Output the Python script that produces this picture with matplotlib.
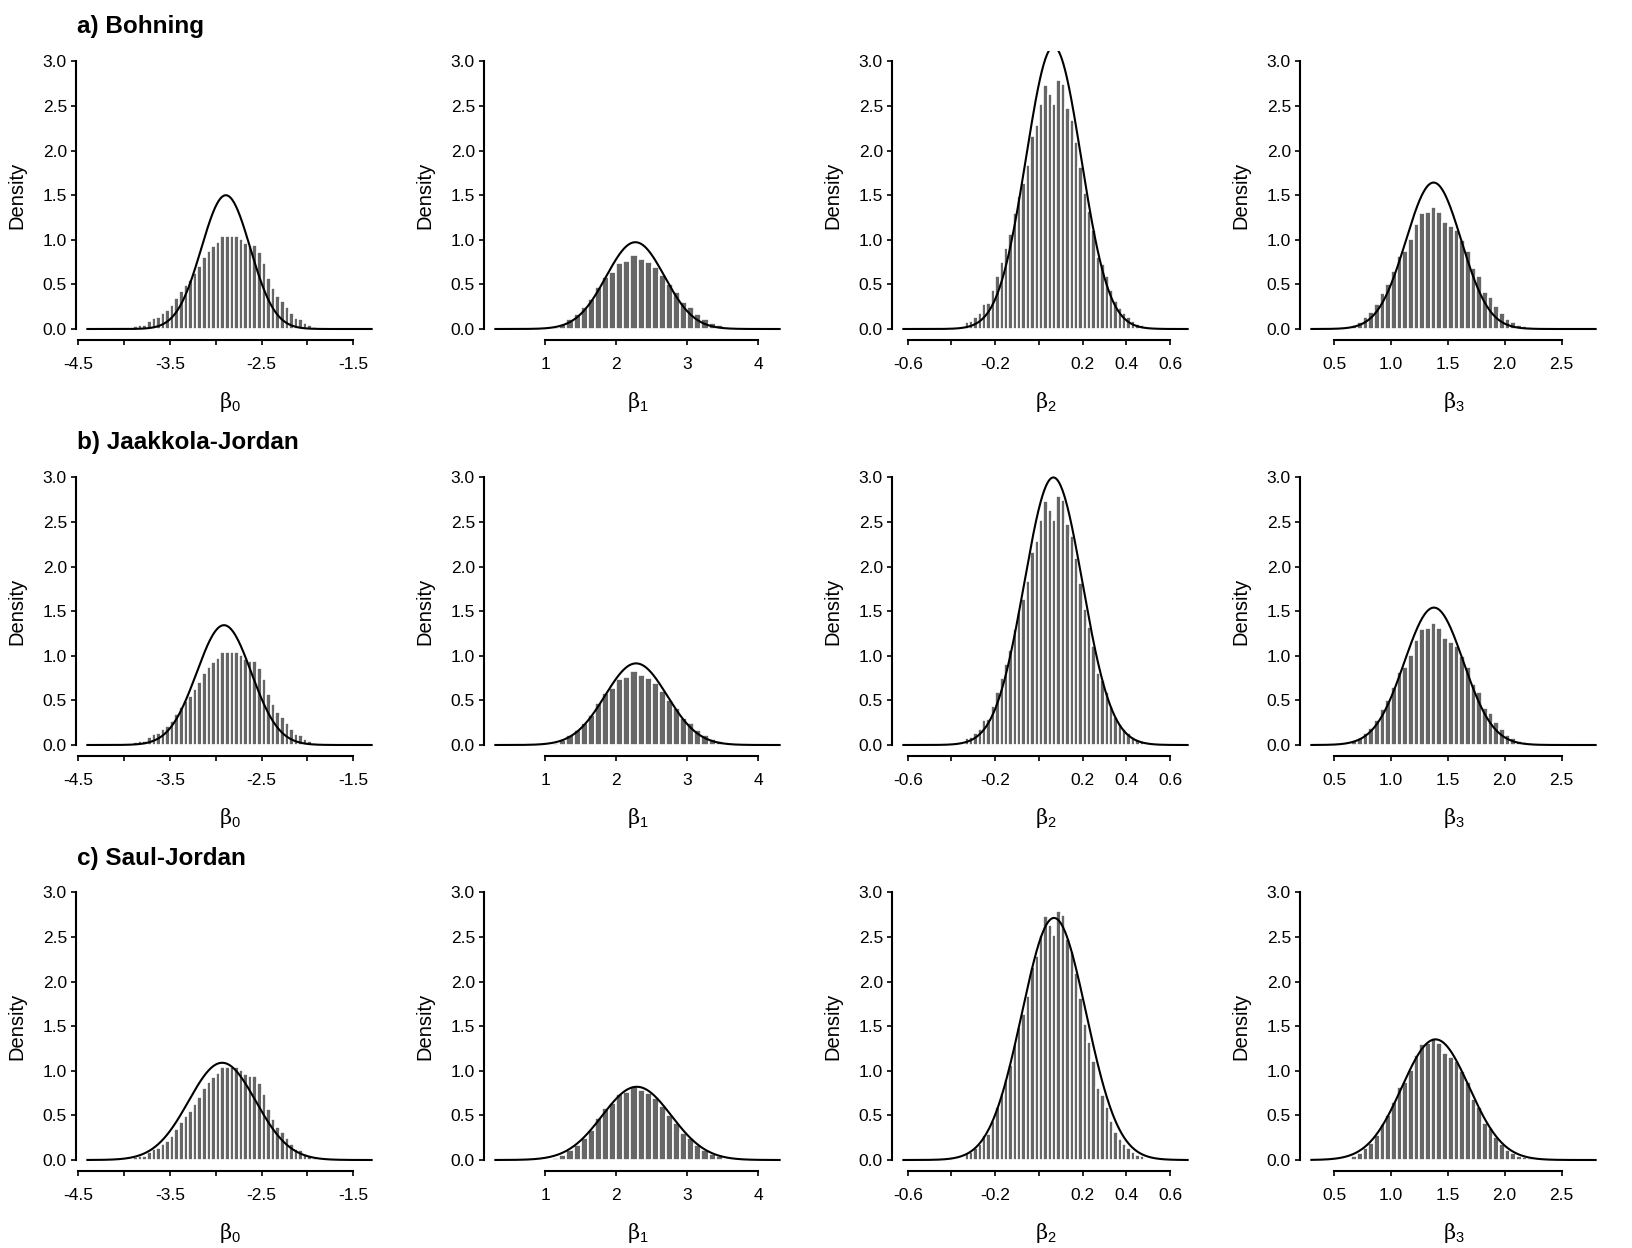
# Posterior histograms with normal approximations (3 methods x 4 coefficients)

import numpy as np
import matplotlib.pyplot as plt

plt.rcParams['font.family'] = ['Liberation Sans', 'DejaVu Sans']
plt.rcParams['mathtext.fontset'] = 'custom'
plt.rcParams['mathtext.rm'] = 'DejaVu Serif'
plt.rcParams['mathtext.sf'] = 'Liberation Sans'

methods = ['a) Bohning', 'b) Jaakkola-Jordan', 'c) Saul-Jordan']
params = [r'$\mathrm{\beta}_\mathsf{0}$', r'$\mathrm{\beta}_\mathsf{1}$',
          r'$\mathrm{\beta}_\mathsf{2}$', r'$\mathrm{\beta}_\mathsf{3}$']

# histogram of the sampled posterior (same sample in every row)
b0_start, b0_width = -3.90, 0.05
b0_dens = [0.03, 0.04, 0.05, 0.09, 0.12, 0.14, 0.18, 0.21, 0.27, 0.35,
           0.43, 0.49, 0.55, 0.63, 0.71, 0.81, 0.87, 0.93, 0.98, 1.04,
           1.04, 1.04, 1.04, 1.01, 0.96, 0.94, 0.94, 0.86, 0.74, 0.57,
           0.46, 0.37, 0.31, 0.25, 0.18, 0.12, 0.11, 0.07, 0.045, 0.02]

b1_start, b1_width = 1.1, 0.1
b1_dens = [0.02, 0.06, 0.11, 0.17, 0.25, 0.34, 0.47, 0.58, 0.64, 0.74,
           0.76, 0.83, 0.78, 0.75, 0.69, 0.60, 0.51, 0.41, 0.30, 0.25,
           0.165, 0.11, 0.07, 0.045]

b2_start, b2_width = -0.34, 0.02
b2_dens = [0.075, 0.09, 0.14, 0.18, 0.28, 0.29, 0.44, 0.59, 0.75, 0.91,
           1.07, 1.30, 1.49, 1.64, 1.84, 2.16, 2.29, 2.52, 2.73, 2.64,
           2.52, 2.79, 2.75, 2.48, 2.34, 2.10, 1.82, 1.52, 1.32, 1.11,
           0.81, 0.73, 0.59, 0.44, 0.31, 0.23, 0.18, 0.14, 0.09, 0.06, 0.04]

b3_start, b3_width = 0.65, 0.05
b3_dens = [0.045, 0.08, 0.14, 0.195, 0.28, 0.40, 0.51, 0.65, 0.82, 0.88,
           1.01, 1.18, 1.30, 1.31, 1.37, 1.31, 1.20, 1.16, 1.11, 1.00,
           0.88, 0.68, 0.59, 0.41, 0.355, 0.26, 0.18, 0.11, 0.08, 0.05,
           0.035, 0.02]

hists = [(b0_start, b0_width, b0_dens), (b1_start, b1_width, b1_dens),
         (b2_start, b2_width, b2_dens), (b3_start, b3_width, b3_dens)]

# normal approximation (mean, sd) for each method / coefficient
norm_mean = [[-2.89, 2.27, 0.067, 1.375],
             [-2.91, 2.28, 0.066, 1.378],
             [-2.93, 2.29, 0.069, 1.392]]
norm_sd = [[0.266, 0.41, 0.126, 0.243],
           [0.297, 0.436, 0.133, 0.259],
           [0.366, 0.486, 0.147, 0.295]]

# range over which the curve is drawn
curve_range = [(-4.4, -1.3), (0.3, 4.3), (-0.62, 0.68), (0.3, 2.8)]

xticks = [[-4.5, -4.0, -3.5, -3.0, -2.5, -2.0, -1.5],
          [1, 2, 3, 4],
          [-0.6, -0.4, -0.2, 0.0, 0.2, 0.4, 0.6],
          [0.5, 1.0, 1.5, 2.0, 2.5]]
xticklabels = [['-4.5', '', '-3.5', '', '-2.5', '', '-1.5'],
               ['1', '2', '3', '4'],
               ['-0.6', '', '-0.2', '', '0.2', '0.4', '0.6'],
               ['0.5', '1.0', '1.5', '2.0', '2.5']]
yticks = [0.0, 0.5, 1.0, 1.5, 2.0, 2.5, 3.0]

W, H = 1632, 1248
fig = plt.figure(figsize=(W / 100, H / 100), dpi=100)

col_left = [76, 484, 892, 1300]
row_bottom = [339.7, 755.7, 1170.7]
ax_w, ax_h = 307, 289
title_y = [26, 442, 859]

for r in range(3):
    fig.text(77 / W, 1 - title_y[r] / H, methods[r], fontsize=17.5,
             fontweight='bold', va='center', ha='left')
    for c in range(4):
        ax = fig.add_axes([col_left[c] / W, 1 - row_bottom[r] / H, ax_w / W, ax_h / H])
        start, width, dens = hists[c]
        edges = start + width * np.arange(len(dens))
        ax.bar(edges, dens, width=width, align='edge', color='#666666',
               edgecolor='white', linewidth=1.2)

        lo, hi = curve_range[c]
        x = np.linspace(lo, hi, 500)
        m, s = norm_mean[r][c], norm_sd[r][c]
        y = np.exp(-0.5 * ((x - m) / s) ** 2) / (s * np.sqrt(2 * np.pi))
        ax.plot(x, y, color='black', linewidth=1.5)

        pad = 0.04 * (hi - lo)
        ax.set_xlim(lo - pad, hi + pad)
        ax.set_ylim(-0.12, 3.12)

        ax.set_xticks(xticks[c])
        ax.set_xticklabels(xticklabels[c])
        ax.set_yticks(yticks)
        ax.set_yticklabels(['%.1f' % v for v in yticks])

        for side in ['top', 'right']:
            ax.spines[side].set_visible(False)
        ax.spines['left'].set_bounds(0, 3)
        ax.spines['bottom'].set_bounds(xticks[c][0], xticks[c][-1])
        ax.spines['left'].set_linewidth(1.5)
        ax.spines['bottom'].set_linewidth(1.5)
        ax.tick_params(axis='both', direction='out', length=3.5, width=1.2,
                       labelsize=12.5)
        ax.tick_params(axis='x', pad=9)
        ax.tick_params(axis='y', pad=3)

        ax.set_ylabel('Density', fontsize=14.5, labelpad=12)
        ax.set_xlabel(params[c], fontsize=15, labelpad=13)

plt.savefig('out.png', dpi=100)
